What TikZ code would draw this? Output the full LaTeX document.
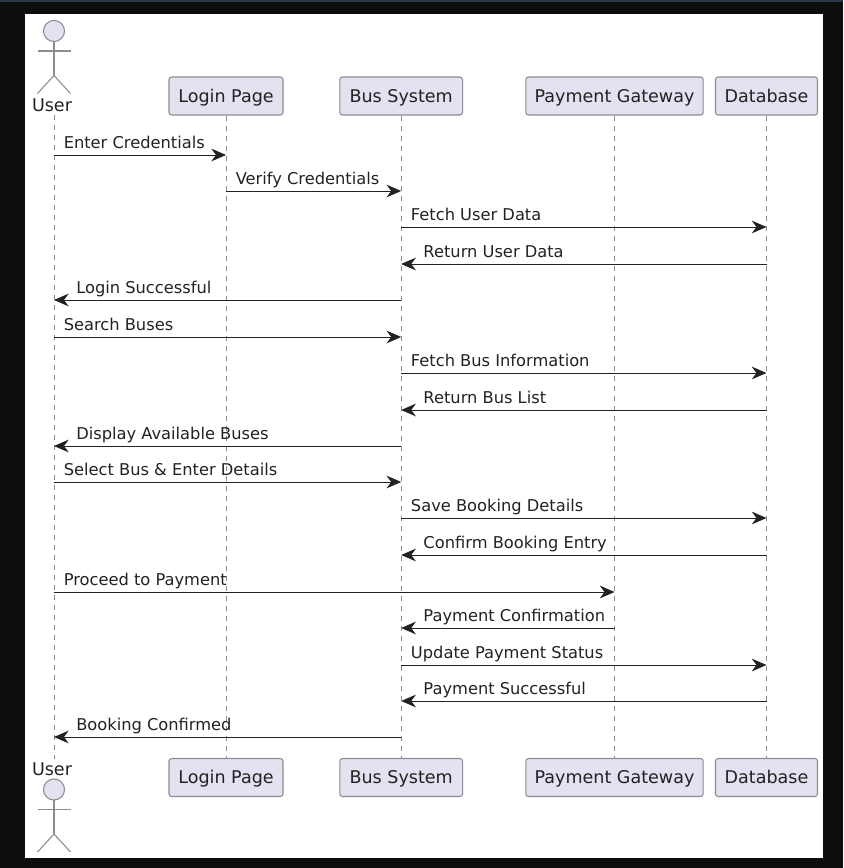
\documentclass[tikz,border=0pt]{standalone}
\usepackage{fontspec}
\setmainfont{DejaVu Sans}
\usetikzlibrary{arrows.meta}
\usetikzlibrary{calc}
\definecolor{panel}{HTML}{0D0D0D}
\definecolor{topbar}{HTML}{2D3748}
\definecolor{boxfill}{HTML}{E2E2F0}
\definecolor{boxline}{HTML}{8C8C92}
\definecolor{ink}{HTML}{222222}
\tikzset{
    participant/.style={draw=boxline, fill=boxfill, line width=0.8pt, rounded corners=2pt, minimum height=28.5pt, inner sep=0pt, text height=11.2pt, text depth=2.2pt, text=ink, font=\fontsize{13.15}{15}\selectfont},
    actorlabel/.style={inner sep=0pt, text=ink, font=\fontsize{13.15}{15}\selectfont},
    actorline/.style={draw=boxline, line width=0.8pt},
    lifeline/.style={draw=boxline, line width=0.7pt, dash pattern=on 3.75pt off 3.75pt},
    message/.style={draw=ink, line width=0.7pt, -{Stealth[length=11pt, width=9.5pt, inset=3.5pt]}},
    msglabel/.style={anchor=base west, inner sep=0pt, text=ink, font=\fontsize{12.2}{14}\selectfont}
}
\begin{document}
\begin{tikzpicture}[x=0.75pt, y=-0.75pt]
    \useasboundingbox (0, 0) rectangle (843, 868);
    \fill[panel] (0, 0) rectangle (843, 868);
    \fill[topbar] (0, 0) rectangle (843, 2);
    \fill[white] (25, 14) rectangle (823, 858);
    \node[actorlabel] (user-name-top) at (52, 105) {User};
    \node[actorlabel] (user-name-bot) at (52, 769) {User};
    \coordinate (user-top) at (54, 115);
    \coordinate (user-bot) at (54, 759);
    \foreach \name/\x/\w/\txt in {login/226/85.5pt/Login Page, bus/401.2/92pt/Bus System, payment/614.5/133pt/Payment Gateway, database/766.5/76.5pt/Database} {
        \node[participant, minimum width=\w] (\name-top) at (\x, 96) {\txt};
        \node[participant, minimum width=\w] (\name-bot) at (\x, 777.5) {\txt};
    }
    \draw[lifeline] (user-top) -- (user-bot);
    \foreach \name in {login, bus, payment, database} {
        \draw[lifeline] (\name-top) -- (\name-bot);
    }
    \foreach \y in {31, 789.5} {
        \filldraw[actorline, fill=boxfill] (54, \y) circle [radius = 7.9pt];
        \draw[actorline] (54, \y + 10.5) -- (54, \y + 44.5);
        \draw[actorline] (38, \y + 20) -- (71, \y + 20);
        \draw[actorline] (37.5, \y + 62.5) -- (54, \y + 44.5) -- (70.5, \y + 62.5);
    }
    \foreach \from/\to/\y/\txt in {user/login/155/Enter Credentials, login/bus/191/Verify Credentials, bus/database/227/Fetch User Data, user/bus/337/Search Buses, bus/database/373/Fetch Bus Information, user/bus/482/Select Bus \& Enter Details, bus/database/518/Save Booking Details, user/payment/592/Proceed to Payment, bus/database/665/Update Payment Status} {
        \coordinate (start) at (\from-top |- 0, \y);
        \coordinate (end) at (\to-top |- 0, \y);
        \draw[message] (start) -- (end);
        \node[msglabel] (label-\y) at ($(start) + (9.5, -6.5)$) {\txt};
    }
    \foreach \from/\to/\y/\txt in {database/bus/264/Return User Data, bus/user/300/Login Successful, database/bus/410/Return Bus List, bus/user/446/Display Available Buses, database/bus/555/Confirm Booking Entry, payment/bus/628/Payment Confirmation, database/bus/701/Payment Successful, bus/user/737/Booking Confirmed} {
        \coordinate (start) at (\from-top |- 0, \y);
        \coordinate (end) at (\to-top |- 0, \y);
        \draw[message] (start) -- (end);
        \node[msglabel] (label-\y) at ($(end) + (22, -6.5)$) {\txt};
    }
\end{tikzpicture}
\end{document}
